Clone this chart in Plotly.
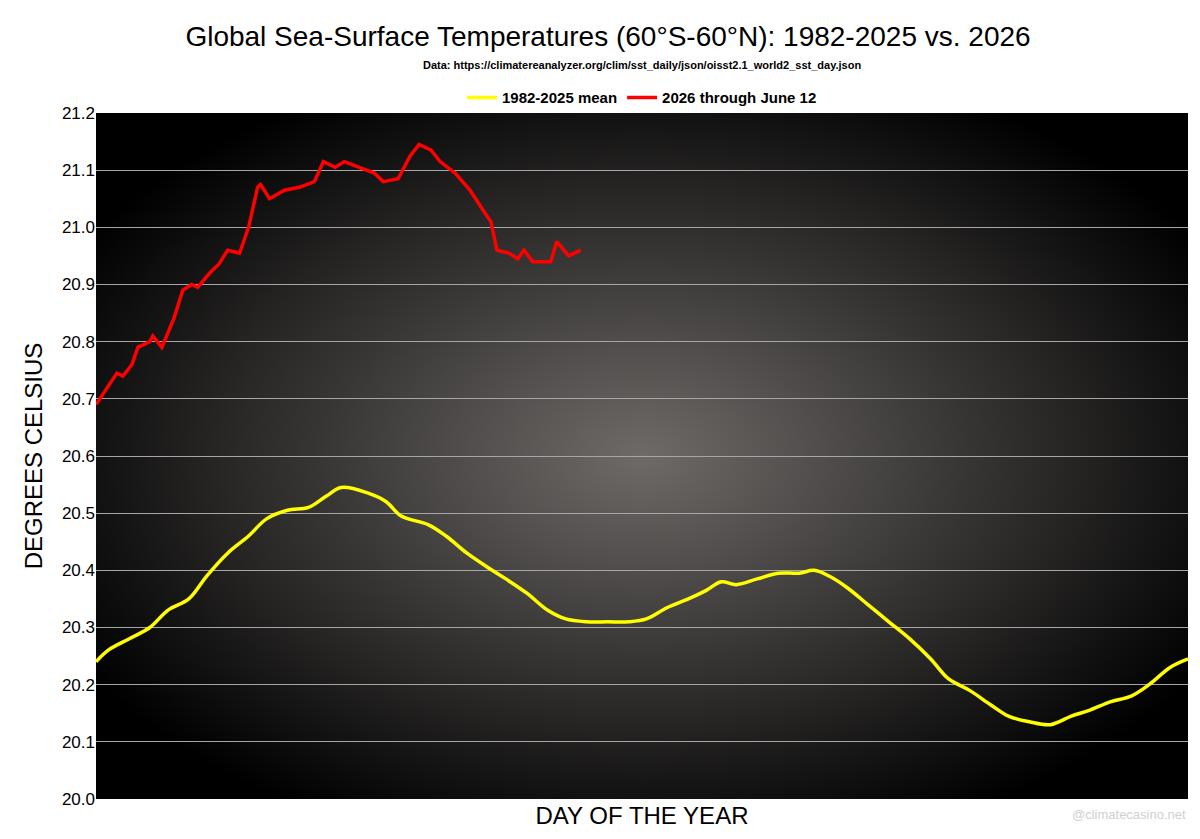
import plotly.graph_objects as go
import base64

mean_days = [1,5,12,19,25,32,38,45,52,58,65,72,78,83,92,98,103,112,118,125,132,138,145,152,158,165,172,179,185,192,199,205,210,215,222,229,236,241,246,252,259,266,273,280,286,293,300,306,313,320,327,333,340,347,353,360,366]
mean_vals = [20.24,20.26,20.28,20.30,20.33,20.35,20.39,20.43,20.46,20.49,20.505,20.51,20.53,20.545,20.535,20.52,20.495,20.48,20.46,20.43,20.405,20.385,20.36,20.33,20.315,20.31,20.31,20.31,20.315,20.335,20.35,20.365,20.38,20.375,20.385,20.395,20.395,20.40,20.39,20.37,20.34,20.31,20.28,20.245,20.21,20.19,20.165,20.145,20.135,20.13,20.145,20.155,20.17,20.18,20.20,20.23,20.245]
y26_days = [1,5,8,10,13,15,19,20,23,27,30,33,35,39,42,45,49,52,55,56,59,64,69,74,77,81,84,89,94,97,102,106,109,113,116,121,126,131,133,135,139,142,144,147,150,153,155,159,163]
y26_vals = [20.69,20.72,20.745,20.74,20.76,20.79,20.80,20.81,20.79,20.84,20.89,20.90,20.895,20.92,20.935,20.96,20.955,21.00,21.07,21.075,21.05,21.065,21.07,21.08,21.115,21.105,21.115,21.105,21.095,21.08,21.085,21.125,21.145,21.135,21.115,21.095,21.065,21.025,21.01,20.96,20.955,20.945,20.96,20.94,20.94,20.94,20.975,20.95,20.96]
y_ticks = [20.0,20.1,20.2,20.3,20.4,20.5,20.6,20.7,20.8,20.9,21.0,21.1,21.2]

svg = ('<svg xmlns="http://www.w3.org/2000/svg" width="1000" height="600" preserveAspectRatio="none">'
       '<defs><radialGradient id="g" cx="50%" cy="50%" r="60%">'
       '<stop offset="0%" stop-color="#6e6a68"/><stop offset="100%" stop-color="#000000"/>'
       '</radialGradient></defs><rect width="1000" height="600" fill="url(#g)"/></svg>')
src = "data:image/svg+xml;base64," + base64.b64encode(svg.encode()).decode()

fig = go.Figure()
fig.add_trace(go.Scatter(x=mean_days, y=mean_vals, mode="lines", name="<b>1982-2025 mean</b>",
                         line=dict(color="#ffff00", width=3.5, shape="spline")))
fig.add_trace(go.Scatter(x=y26_days, y=y26_vals, mode="lines", name="<b>2026 through June 12</b>",
                         line=dict(color="#ff0000", width=3.5)))
fig.update_layout(
    width=1200, height=839, paper_bgcolor="white", plot_bgcolor="rgba(0,0,0,0)",
    margin=dict(l=88, r=20, t=105, b=48),
    font=dict(family="Liberation Sans", color="black"),
    title=dict(text="Global Sea-Surface Temperatures (60°S-60°N): 1982-2025 vs. 2026",
               x=0.5, xanchor="center", y=0.978, yanchor="top", font=dict(size=28)),
    legend=dict(orientation="h", x=0.5, xanchor="center", y=0.998, yanchor="bottom",
                font=dict(size=15), bgcolor="rgba(0,0,0,0)"),
    showlegend=True,
    images=[dict(source=src, xref="paper", yref="paper", x=0, y=1, sizex=1, sizey=1,
                 sizing="stretch", layer="below", xanchor="left", yanchor="top")],
    xaxis=dict(range=[1, 366], showticklabels=False, showgrid=False, zeroline=False,
               title=dict(text="DAY OF THE YEAR", font=dict(size=24), standoff=8)),
    yaxis=dict(range=[20.0, 21.2], tickvals=y_ticks, tickformat=".1f", showgrid=True,
               gridcolor="#a6a6a6", gridwidth=1, zeroline=False, tickfont=dict(size=17),
               ticks="", title=dict(text="DEGREES CELSIUS", font=dict(size=24), standoff=12)),
)
fig.add_annotation(text="<b>Data: https://climatereanalyzer.org/clim/sst_daily/json/oisst2.1_world2_sst_day.json</b>",
                   xref="paper", yref="paper", x=0.5, y=1.07, yanchor="middle", showarrow=False, font=dict(size=11))
fig.add_annotation(text="@climatecasino.net", xref="paper", yref="paper", x=1, y=0, xanchor="right",
                   yanchor="top", yshift=-6, showarrow=False, font=dict(size=13, color="#d0d0d0"))
fig.write_html("out.html")
